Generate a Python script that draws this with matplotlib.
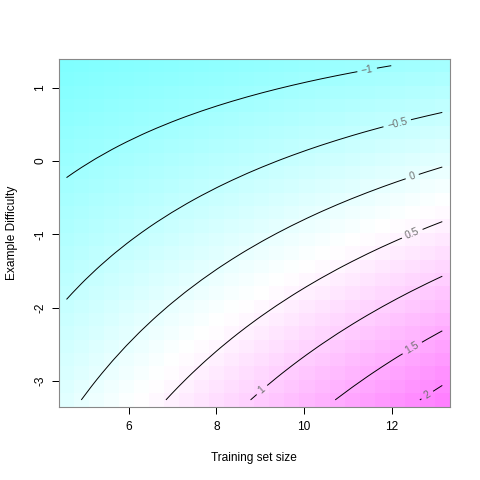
import numpy as np
import matplotlib.pyplot as plt
from matplotlib.colors import LinearSegmentedColormap

plt.rcParams['font.family'] = ['Liberation Sans', 'DejaVu Sans']

# values
# grid of cell centres (26 x 26 cells)
x_first, x_last, n_x = 4.58, 13.15, 26
y_first, y_last, n_y = -3.26, 1.30, 26

# per-column reading of the surface: z = intercept - slope * difficulty
col_x = [4.6, 6.0, 8.0, 10.0, 12.0, 13.14]
col_intercept = [-1.075, -0.874, -0.677, -0.45, -0.17, -0.06]
col_slope = [0.31, 0.37, 0.44, 0.51, 0.62, 0.69]

levels = [-1, -0.5, 0, 0.5, 1, 1.5, 2]
# where along each line (share of its x extent) the label sits
label_frac = [0.94, 0.87, 0.91, 0.89, 0.05, 0.72, 0.33]

x_ticks = [6, 8, 10, 12]
y_ticks = [-3, -2, -1, 0, 1]

x = np.linspace(x_first, x_last, n_x)
y = np.linspace(y_first, y_last, n_y)
a_fit = np.polyfit(col_x, col_intercept, 1)
s_fit = np.polyfit(col_x, col_slope, 1)
X, Y = np.meshgrid(x, y)
Z = np.polyval(a_fit, X) - np.polyval(s_fit, X) * Y

cmap = LinearSegmentedColormap.from_list('cm', ['#80FFFF', '#FFFFFF', '#FF80FF'], N=256)

fig = plt.figure(figsize=(4.8, 4.8), dpi=100)
ax = fig.add_axes([59 / 480, 73.4 / 480, 390.8 / 480, 347.6 / 480])

ax.pcolormesh(x, y, Z, cmap=cmap, shading='nearest')
cs = ax.contour(X, Y, Z, levels=levels, colors='black', linewidths=0.7,
                linestyles='solid')

# label positions taken from the computed contour paths
spots = []
for path, f in zip(cs.get_paths(), label_frac):
    v = path.vertices
    if len(v) == 0:
        continue
    target = v[:, 0].min() + f * (v[:, 0].max() - v[:, 0].min())
    i = np.argmin(np.abs(v[:, 0] - target))
    spots.append((v[i, 0], v[i, 1]))

fmt = lambda val: ('%g' % val).replace('-', '\u2212')
ax.clabel(cs, manual=spots, inline=True, inline_spacing=4, fmt=fmt,
          fontsize=7.5, colors='#707070')

dx = x[1] - x[0]
dy = y[1] - y[0]
ax.set_xlim(x_first - dx / 2, x_last + dx / 2)
ax.set_ylim(y_first - dy / 2, y_last + dy / 2)

ax.set_xticks(x_ticks)
ax.set_yticks(y_ticks)
ax.set_xticklabels([str(t) for t in x_ticks])
ax.set_yticklabels([str(t) for t in y_ticks], rotation=90, va='center')
ax.tick_params(direction='out', length=5.2, width=0.72, labelsize=8.6, pad=5)
ax.tick_params(axis='y', pad=4)
for sp in ax.spines.values():
    sp.set_color('#888888')
    sp.set_linewidth(0.8)

ax.set_xlabel('Training set size', fontsize=8.6, labelpad=14)
ax.set_ylabel('Example Difficulty', fontsize=8.6, labelpad=12)

fig.savefig('out.png', dpi=100)
